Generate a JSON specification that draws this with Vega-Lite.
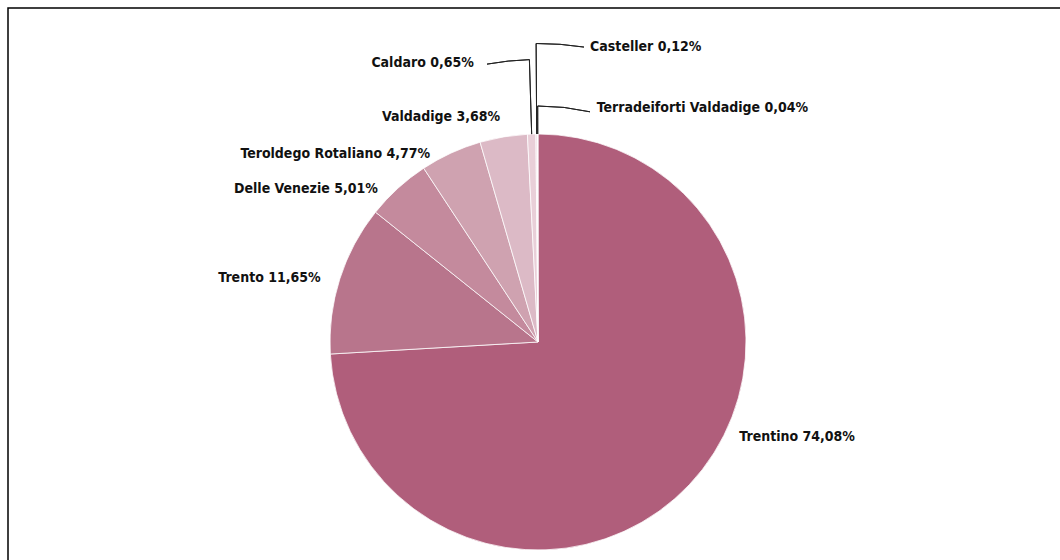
{
  "$schema": "https://vega.github.io/schema/vega-lite/v6.json",
  "autosize": {"type": "none", "contains": "content"},
  "width": 1060,
  "height": 668,
  "padding": {"left": 8, "top": 8, "right": -8, "bottom": -116},
  "background": "#ffffff",
  "config": {
    "view": {"stroke": null},
    "text": {"font": "DejaVu Sans Condensed", "fontWeight": "bold", "fontSize": 14, "fill": "#111111", "baseline": "middle"}
  },
  "data": {
    "values": [
      {"name": "Trentino", "share": 74.08, "rank": 1, "label": "Trentino 74,08%"},
      {"name": "Trento", "share": 11.65, "rank": 2, "label": "Trento 11,65%"},
      {"name": "Delle Venezie", "share": 5.01, "rank": 3, "label": "Delle Venezie 5,01%"},
      {"name": "Teroldego Rotaliano", "share": 4.77, "rank": 4, "label": "Teroldego Rotaliano 4,77%"},
      {"name": "Valdadige", "share": 3.68, "rank": 5, "label": "Valdadige 3,68%"},
      {"name": "Caldaro", "share": 0.65, "rank": 6, "label": "Caldaro 0,65%"},
      {"name": "Casteller", "share": 0.12, "rank": 7, "label": "Casteller 0,12%"},
      {"name": "Terradeiforti Valdadige", "share": 0.04, "rank": 8, "label": "Terradeiforti Valdadige 0,04%"}
    ]
  },
  "layer": [
    {
      "transform": [{"filter": "datum.rank === 1"}],
      "mark": {"type": "rect", "filled": false, "stroke": "#000000", "strokeWidth": 1.5},
      "encoding": {
        "x": {"value": 0},
        "x2": {"value": "width"},
        "y": {"value": 0},
        "y2": {"value": "height"}
      }
    },
    {
      "mark": {"type": "arc", "outerRadius": 208, "stroke": "#ffffff", "strokeWidth": 0.75},
      "encoding": {
        "theta": {"field": "share", "type": "quantitative", "stack": true},
        "order": {"field": "rank", "type": "quantitative"},
        "color": {
          "field": "name", "type": "nominal", "legend": null,
          "scale": {
            "domain": ["Trentino", "Trento", "Delle Venezie", "Teroldego Rotaliano", "Valdadige", "Caldaro", "Casteller", "Terradeiforti Valdadige"],
            "range": ["#B05E7B", "#B8758C", "#C48A9D", "#CFA2B0", "#DCBAC6", "#E9CFD8", "#F0DDE4", "#F6EBEF"]
          }
        }
      }
    },
    {
      "mark": {"type": "arc", "innerRadius": 208, "outerRadius": 282.5, "padAngle": 1, "filled": false, "strokeWidth": 1},
      "encoding": {
        "theta": {"field": "share", "type": "quantitative", "stack": true},
        "order": {"field": "rank", "type": "quantitative"},
        "stroke": {"condition": {"test": "datum.name === 'Caldaro'", "value": "#222222"}, "value": "transparent"}
      }
    },
    {
      "mark": {"type": "arc", "innerRadius": 208, "outerRadius": 298.5, "padAngle": 1, "filled": false, "strokeWidth": 1},
      "encoding": {
        "theta": {"field": "share", "type": "quantitative", "stack": true},
        "order": {"field": "rank", "type": "quantitative"},
        "stroke": {"condition": {"test": "datum.name === 'Casteller'", "value": "#222222"}, "value": "transparent"}
      }
    },
    {
      "mark": {"type": "arc", "innerRadius": 208, "outerRadius": 236, "padAngle": 1, "filled": false, "strokeWidth": 1},
      "encoding": {
        "theta": {"field": "share", "type": "quantitative", "stack": true},
        "order": {"field": "rank", "type": "quantitative"},
        "stroke": {"condition": {"test": "datum.name === 'Terradeiforti Valdadige'", "value": "#222222"}, "value": "transparent"}
      }
    },
    {
      "transform": [{"filter": "datum.name === 'Caldaro'"}],
      "mark": {"type": "arc", "innerRadius": 282.5, "outerRadius": 282.5, "filled": false, "stroke": "#222222", "strokeWidth": 1},
      "encoding": {"theta": {"value": -0.03047}, "theta2": {"value": -0.1815}}
    },
    {
      "transform": [{"filter": "datum.name === 'Casteller'"}],
      "mark": {"type": "arc", "innerRadius": 298.5, "outerRadius": 298.5, "filled": false, "stroke": "#222222", "strokeWidth": 1},
      "encoding": {"theta": {"value": -0.00628}, "theta2": {"value": 0.1547}}
    },
    {
      "transform": [{"filter": "datum.name === 'Terradeiforti Valdadige'"}],
      "mark": {"type": "arc", "innerRadius": 236, "outerRadius": 236, "filled": false, "stroke": "#222222", "strokeWidth": 1},
      "encoding": {"theta": {"value": -0.00126}, "theta2": {"value": 0.2222}}
    },
    {
      "mark": {"type": "text", "radius": 205, "align": "right", "dx": -22, "dy": -2},
      "encoding": {
        "theta": {"field": "share", "type": "quantitative", "stack": true},
        "order": {"field": "rank", "type": "quantitative"},
        "text": {"condition": {"test": "indexof(['Trento','Delle Venezie','Teroldego Rotaliano'], datum.name) >= 0", "field": "label"}, "value": ""}
      }
    },
    {
      "mark": {"type": "text", "radius": 228, "align": "right"},
      "encoding": {
        "theta": {"field": "share", "type": "quantitative", "stack": true},
        "order": {"field": "rank", "type": "quantitative"},
        "text": {"condition": {"test": "datum.name === 'Valdadige'", "field": "label"}, "value": ""}
      }
    },
    {
      "mark": {"type": "text", "radius": 226, "align": "left", "dx": 37, "dy": -60},
      "encoding": {
        "theta": {"field": "share", "type": "quantitative", "stack": true},
        "order": {"field": "rank", "type": "quantitative"},
        "text": {"condition": {"test": "datum.name === 'Trentino'", "field": "label"}, "value": ""}
      }
    },
    {
      "mark": {"type": "text", "radius": 282.5, "align": "right", "dx": -55.5, "dy": 3},
      "encoding": {
        "theta": {"field": "share", "type": "quantitative", "stack": true},
        "order": {"field": "rank", "type": "quantitative"},
        "text": {"condition": {"test": "datum.name === 'Caldaro'", "field": "label"}, "value": ""}
      }
    },
    {
      "mark": {"type": "text", "radius": 298.5, "align": "left", "dx": 54, "dy": 3},
      "encoding": {
        "theta": {"field": "share", "type": "quantitative", "stack": true},
        "order": {"field": "rank", "type": "quantitative"},
        "text": {"condition": {"test": "datum.name === 'Casteller'", "field": "label"}, "value": ""}
      }
    },
    {
      "mark": {"type": "text", "radius": 236, "align": "left", "dx": 59, "dy": 2},
      "encoding": {
        "theta": {"field": "share", "type": "quantitative", "stack": true},
        "order": {"field": "rank", "type": "quantitative"},
        "text": {"condition": {"test": "datum.name === 'Terradeiforti Valdadige'", "field": "label"}, "value": ""}
      }
    }
  ]
}
